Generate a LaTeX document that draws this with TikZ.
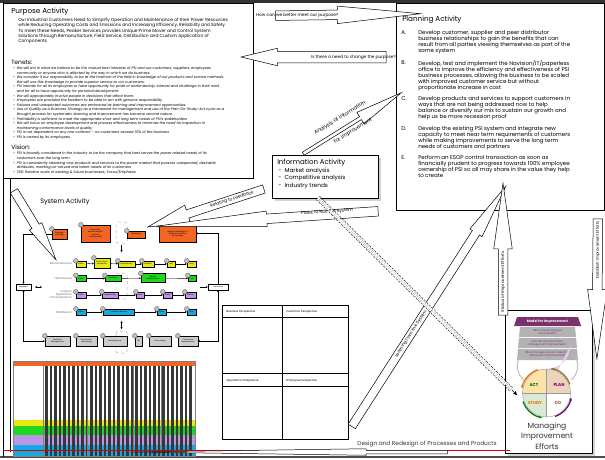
\documentclass[tikz,border=0pt]{standalone}
\usepackage{fontspec}
\setmainfont{Poppins}
\usetikzlibrary{arrows.meta, shapes.arrows, calc, shadows}

\definecolor{procorange}{RGB}{242,101,34}
\definecolor{procyellow}{RGB}{232,232,20}
\definecolor{procgreen}{RGB}{30,215,30}
\definecolor{procpurple}{RGB}{185,150,230}
\definecolor{proccyan}{RGB}{20,170,225}
\definecolor{mipurple}{RGB}{120,50,110}
\definecolor{actgreen}{RGB}{218,232,212}
\definecolor{planpurple}{RGB}{226,206,236}
\definecolor{studyyellow}{RGB}{253,226,170}
\definecolor{dotan}{RGB}{236,212,186}
\definecolor{scgreen}{RGB}{40,200,40}
\definecolor{scred}{RGB}{235,60,60}

\newcommand{\fs}[2]{\fontsize{#1}{#2}\selectfont}
% block arrow from tail (#3) to tip (#4)
\newcommand{\blockarrow}[4][]{%
  \path let \p1=($(#4)-(#3)$), \n1={veclen(\x1,\y1)}, \n2={atan2(\y1,\x1)} in
    node[flowarrow, minimum height=\n1, rotate=\n2, #1] (#2) at ($(#3)!0.5!(#4)$) {};}

\begin{document}
\begin{tikzpicture}[x=1pt, y=-1pt, line width=0.5pt,
  every node/.style={inner sep=0pt},
  flowarrow/.style={single arrow, draw, fill=white, inner sep=0pt, text depth=0pt,
    minimum width=0pt, line width=0.5pt},
  arrowlbl/.style={font=\fs{4.3}{5}},
  titletext/.style={font=\fs{7.2}{8}, anchor=west},
  bodytext/.style={anchor=north west, align=left},
  plantext/.style={anchor=north west, align=left, font=\fs{5.5}{6}},
  procbox/.style={draw, line width=0.35pt, font=\fs{1.9}{2.2}, align=center, inner sep=0.3pt},
  orangebox/.style={procbox, fill=procorange},
  yellowbox/.style={procbox, fill=procyellow, minimum height=6},
  greenbox/.style={procbox, fill=procgreen, minimum height=6},
  purplebox/.style={procbox, fill=procpurple, minimum height=6},
  cyanbox/.style={procbox, fill=proccyan, minimum height=6},
  graybox/.style={procbox, fill=black!20, minimum height=10},
  whitebox/.style={procbox, fill=white, minimum height=6},
  rowlbl/.style={font=\fs{2.8}{3.2}, text=black!60, anchor=east, align=right},
  flow/.style={-{Stealth[length=2pt, width=2pt]}, line width=0.35pt},
  badge/.style={fill=black!25, draw=black!70, line width=0.3pt},
  sctext/.style={anchor=north west, align=left, font=\fs{2.3}{3.6}},
  mitext/.style={font=\fs{2.7}{3}, text=mipurple, align=center}]
\useasboundingbox (0,0) rectangle (605,459);

% outer frame
\draw[line width=2.4pt, black!80] (0,1.5) -- (605,1.5);
\draw[line width=2.4pt, black!70] (0,457) -- (605,457);
\draw[line width=0.8pt] (3,2) -- (3,457);

% ---------------- Purpose Activity
\draw (3,3) rectangle (253,178);
\node[titletext] (purposeTitle) at (11,12) {Purpose Activity};
\node[bodytext, font=\fs{4.4}{5}] (purposeText) at (18,17.5)
  {Our Industrial Customers Need to Simplify Operation and Maintenance of their Power Resources\\
   while Reducing Operating Costs and Emissions and Increasing Efficiency, Reliability and Safety.\\[1.2pt]
   To meet these Needs, Peaker Services provides Unique Prime Mover and Control System\\
   Solutions through Remanufacture, Field Service, Distribution and Custom Application of\\
   Components};
\node[titletext, font=\fs{6}{7}] (tenetsTitle) at (11,62) {Tenets:};
\node[bodytext, font=\fs{3.55}{4.6}\itshape] (tenetsText) at (13,66.5)
  {\textbullet\ \ We will act in what we believe to be the mutual best interests of PSI and our customers, suppliers, employees,\\
   \phantom{\textbullet\ \ }community or anyone who is affected by the way in which we do business.\\
   \textbullet\ \ We consider it our responsibility to be at the forefront of the field in knowledge of our products and service methods.\\
   \phantom{\textbullet\ \ }We will use this knowledge to provide superior service to our customers.\\
   \textbullet\ \ PSI intends for all its employees to have opportunity for pride of workmanship, interest and challenge in their work\\
   \phantom{\textbullet\ \ }and for all to have opportunity for personal development.\\
   \textbullet\ \ We will appropriately involve people in decisions that affect them.\\
   \textbullet\ \ Employees are provided the freedom to be able to act with genuine responsibility.\\
   \textbullet\ \ Failures and unexpected outcomes are embraced as learning and improvement opportunities.\\
   \textbullet\ \ Use of Quality as a Business Strategy as a framework for management and use of the Plan-Do-Study-Act cycle as a\\
   \phantom{\textbullet\ \ }thought process for systematic learning and improvement has become second nature.\\
   \textbullet\ \ Profitability is sufficient to meet the appropriate short and long term needs of PSI's stakeholders\\
   \textbullet\ \ We will focus on employee development and process effectiveness to minimize the need for inspection in\\
   \phantom{\textbullet\ \ }maintaining conformance levels of quality\\
   \textbullet\ \ PSI is not dependent on any one contract -- no customers exceed 30\% of the business\\
   \textbullet\ \ PSI is owned by its employees.};
\node[titletext, font=\fs{6}{7}] (visionTitle) at (11,147) {Vision:};
\node[bodytext, font=\fs{3.55}{4.8}\itshape] (visionText) at (13,151.5)
  {\textbullet\ \ PSI is broadly considered in the industry to be the company that best serves the power related needs of its\\
   \phantom{\textbullet\ \ }customers over the long term\\
   \textbullet\ \ PSI is consistently releasing new products and services to the power market that possess unexpected, desirable\\
   \phantom{\textbullet\ \ }attributes, meeting un-served and latent needs of its customers\\
   \textbullet\ \ TBD: Relative scale of existing \& future businesses; Focus/Emphasis};

% ---------------- Planning Activity
\draw (396,3) rectangle (604,210);
\node[titletext, font=\fs{7.2}{8}] (planTitle) at (402,20) {Planning Activity};
\node[plantext] (planA) at (401,30) {A.};
\node[plantext] (planAText) at (418,30)
  {Develop customer, supplier and peer distributor\\ business relationships to gain the benefits that can\\
   result from all parties viewing themselves as part of the\\ same system};
\node[plantext] (planB) at (401,60) {B.};
\node[plantext] (planBText) at (418,60)
  {Develop, test and implement the Navision/IT/paperless\\ office to improve the efficiency and effectiveness of PSI\\
   business processes, allowing the business to be scaled\\ with improved customer service but without\\ proportionate increase in cost};
\node[plantext] (planC) at (401,96) {C.};
\node[plantext] (planCText) at (418,96)
  {Develop products and services to support customers in\\ ways that are not being addressed now to help\\
   balance or diversify our mix to sustain our growth and\\ help us be more recession proof};
\node[plantext] (planD) at (401,126) {D.};
\node[plantext] (planDText) at (418,126)
  {Develop the existing PSI system and integrate new\\ capacity to meet near term requirements of customers\\
   while making improvements to serve the long term\\ needs of customers and partners};
\node[plantext] (planE) at (401,155) {E.};
\node[plantext] (planEText) at (418,155)
  {Perform an ESOP control transaction as soon as\\ financially prudent to progress towards 100\% employee\\
   ownership of PSI so all may share in the value they help\\ to create};

% ---------------- System Activity
\draw (10,178) -- (10,452);
\node[titletext, font=\fs{6.5}{7}] (systemTitle) at (40,202) {System Activity};

\draw[dashed, black!35, rounded corners=2pt] (116,222) rectangle (127,243);
\draw[dashed, black!35, rounded corners=2pt] (116,273) rectangle (127,299);
\draw[dashed, black!35, rounded corners=2pt] (116,331) rectangle (127,353);

\node[orangebox, minimum width=15, minimum height=10] (sp) at (59.5,234) {Strategic\\Planning};
\node[orangebox, minimum width=29, minimum height=17] (pr) at (95.5,233.5) {Personnel,\\Relationships \&\\Capacity\\Development};
\node[orangebox, minimum width=18, minimum height=7] (mk) at (136,234.5) {Marketing};
\node[orangebox, minimum width=37, minimum height=17] (dr) at (177.5,233.5) {Design \& Redesign of\\Services, Solutions\\\& Processes};

\node[rowlbl] (remLbl) at (72,263) {Remanufacture};
\node[yellowbox, minimum width=10] (y1) at (81,264) {Sales};
\node[yellowbox, minimum width=16, minimum height=10] (y2) at (102,263) {Receiving \&\\Inspection};
\node[yellowbox, minimum width=17] (y3) at (126.5,264) {Disassembly};
\node[yellowbox, minimum width=12] (y4) at (148,264) {Rebuild};
\node[yellowbox, minimum width=8] (y5) at (171,264) {Test};
\node[yellowbox, minimum width=9] (y6) at (191.5,264) {Ship};

\node[rowlbl] (fsLbl) at (72,278) {Field Service};
\node[greenbox, minimum width=10] (g1) at (81,278.5) {Sales};
\node[greenbox, minimum width=16] (g2) at (113,278.5) {Dispatch};
\node[greenbox, minimum width=24, minimum height=9] (g3) at (153,278) {Repair/\\Replacement};
\node[greenbox, minimum width=8] (g4) at (192,278.5) {Bill};

\node[rowlbl] (caLbl) at (72,295) {Custom\\Application\\Of Components};
\node[purplebox, minimum width=10] (p1) at (81,295) {Sales};
\node[purplebox, minimum width=16] (p2) at (110,295) {Engineering};
\node[purplebox, minimum width=8] (p3) at (140,295) {Order};
\node[purplebox, minimum width=9] (p4) at (167.5,295) {Build};
\node[purplebox, minimum width=11] (p5) at (190.5,295) {Deliver};

\node[rowlbl] (diLbl) at (72,312) {Distribution};
\node[cyanbox, minimum width=10] (c1) at (81,312) {Sales};
\node[cyanbox, minimum width=31] (c2) at (118.5,312) {Customer Service};
\node[cyanbox, minimum width=9] (c3) at (161.5,312) {Order};
\node[cyanbox, minimum width=9] (c4) at (191.5,312) {Ship};

\node[whitebox, minimum width=15] (sup) at (23.5,287) {Suppliers};
\node[whitebox, minimum width=20] (cust) at (218,287) {Customers};

\node[graybox, minimum width=25] (b1) at (57.5,341) {Materials\\Management};
\node[graybox, minimum width=21] (b2) at (86.5,341) {Information\\Technology};
\node[graybox, minimum width=24] (b3) at (115,341) {Maintenance};
\node[graybox, minimum width=7] (b4) at (138.5,341) {HR};
\node[graybox, minimum width=22] (b5) at (160,341) {Accounting};
\node[graybox, minimum width=20] (b6) at (188,341) {Continuous\\Improvement};

\foreach \b in {sp,pr,mk,dr,y1,y2,y3,y4,y5,y6,g1,g2,g3,g4,p1,p2,p3,p4,p5,c1,c2,c3,c4,b1,b2,b3,b4,b5,b6}
  \draw[badge] (\b.north west) circle (2.4pt);

\foreach \a/\b in {y1/y2,y2/y3,y3/y4,y4/y5,y5/y6,g1/g2,g2/g3,g3/g4,p1/p2,p2/p3,p3/p4,p4/p5,c1/c2,c2/c3,c3/c4}
  \draw[flow] (\a) -- (\b);
\draw[flow] (sp.west) -| (sup.north);
\draw[flow] (cust.north) |- (dr.east);
\draw[flow, {Stealth[length=2pt, width=2pt]}-{Stealth[length=2pt, width=2pt]}] (sup.south) |- (b1.west);
\draw[flow, {Stealth[length=2pt, width=2pt]}-{Stealth[length=2pt, width=2pt]}] (cust.south) |- (b6.east);
\coordinate (mkDown) at (121.5,245); \coordinate (mkDownEnd) at (121.5,252);
\draw[flow] (mkDown) -- (mkDownEnd);
\coordinate (bUp) at (121.5,321); \coordinate (bUpEnd) at (121.5,329);
\draw[flow, {Stealth[length=2pt, width=2pt]}-{Stealth[length=2pt, width=2pt]}] (bUp) -- (bUpEnd);
\coordinate (supR) at (35,287); \coordinate (supRE) at (42,287);
\draw[flow, {Stealth[length=2pt, width=2pt]}-{Stealth[length=2pt, width=2pt]}] (supR) -- (supRE);
\coordinate (custL) at (200,287);
\draw[flow] (custL) -- (cust.west);

% measures table
\fill[procorange] (13,361) rectangle (195,365.5);
\fill[procyellow] (13,420) rectangle (195,426);
\fill[procgreen] (13,426) rectangle (195,435);
\fill[procpurple] (13,435) rectangle (195,445);
\fill[proccyan] (13,445) rectangle (195,456);
\foreach \x in {45,49.5,...,192}
  \fill[black!78] (\x,365.5) rectangle ++(2.8,90.5);
\draw[black!50, line width=0.3pt] (13,361) rectangle (195,456);
\foreach \x in {43,87,133,161}
  \draw[black!50, line width=0.3pt] (\x,361) -- (\x,456);

% balanced scorecard
\draw[line width=0.6pt] (222,305) rectangle (348,439);
\draw[line width=0.6pt] (282,305) -- (282,439);
\draw[line width=0.6pt] (222,373) -- (348,373);
\draw[line width=0.6pt] (222,317) -- (348,317);
\draw[line width=0.6pt] (222,386) -- (348,386);
\node[sctext, font=\fs{2.8}{3}] (bpTitle) at (226,310) {Business Perspective};
\node[sctext, font=\fs{2.8}{3}] (cpTitle) at (286,310) {Customer Perspective};
\node[sctext, font=\fs{2.8}{3}] (opTitle) at (226,379) {Operations Perspective};
\node[sctext, font=\fs{2.8}{3}] (epTitle) at (286,379) {Employee Perspective};

% ---------------- Information Activity
\node[draw, fill=white, drop shadow={opacity=0.35}, minimum width=106, minimum height=43, anchor=north west] (info) at (272,155) {};
\node[titletext, font=\fs{7}{8}] (infoTitle) at (277,163) {Information Activity};
\node[bodytext, font=\fs{5.8}{7.6}] (infoText) at (278,167.5) {-\ \ Market analysis\\ -\ \ Competitive analysis\\ -\ \ Industry trends};

% ---------------- Managing Improvement Efforts
\node[draw, fill=white, drop shadow={opacity=0.35}, minimum width=87, minimum height=143, anchor=north west] (mie) at (505,310) {};
\fill[mipurple] (517,317) -- (578,317) -- (581,326) -- (514,326) -- cycle;
\node[font=\fs{3.4}{4}\bfseries, text=white] (mieModel) at (547.5,321.5) {Model for Improvement};
\fill[black!30] (520,327) -- (575,327) -- (576,337) -- (519,337) -- cycle;
\fill[black!30] (519,338) -- (576,338) -- (577,348) -- (518,348) -- cycle;
\fill[black!30] (518,349) -- (577,349) -- (578,360) -- (517,360) -- cycle;
\node[mitext] (q1) at (547.5,332) {What are we trying to\\accomplish?};
\node[mitext] (q2) at (547.5,343) {How will we know that a\\change is an improvement?};
\node[mitext] (q3) at (547.5,354.5) {What changes can we make that\\will result in improvement?};
\coordinate (pdsa) at (546.5,393);
\draw[planpurple!70!black!60, line width=1pt, -{Stealth[length=3pt]}] (519,358) to[bend right=35] (524,380);
\draw[planpurple!70!black!60, line width=1pt, -{Stealth[length=3pt]}] (576,358) to[bend left=35] (571,380);
\fill[actgreen] (pdsa) -- ++(-24,0) arc[start angle=180, end angle=90, radius=24] -- cycle;
\fill[planpurple] (pdsa) -- ++(0,-24) arc[start angle=90, end angle=0, radius=24] -- cycle;
\fill[studyyellow] (pdsa) -- ++(-24,0) arc[start angle=180, end angle=270, radius=24] -- cycle;
\fill[dotan] (pdsa) -- ++(24,0) arc[start angle=0, end angle=-90, radius=24] -- cycle;
\draw[black!40, line width=0.4pt] (pdsa) circle (24pt);
\draw[black!40, line width=0.4pt] ($(pdsa)+(-24,0)$) -- ($(pdsa)+(24,0)$);
\draw[black!40, line width=0.4pt] ($(pdsa)+(0,-24)$) -- ($(pdsa)+(0,24)$);
\draw[green!45!black, line width=1.2pt, -{Stealth[length=3.5pt]}] ($(pdsa)+(160:25)$) arc[start angle=160, end angle=100, radius=25];
\draw[violet!80!black, line width=1.2pt, -{Stealth[length=3.5pt]}] ($(pdsa)+(70:25)$) arc[start angle=70, end angle=10, radius=25];
\draw[brown!80!black, line width=1.2pt, -{Stealth[length=3.5pt]}] ($(pdsa)+(-20:25)$) arc[start angle=-20, end angle=-80, radius=25];
\draw[orange!90!black, line width=1.2pt, -{Stealth[length=3.5pt]}] ($(pdsa)+(-110:25)$) arc[start angle=-110, end angle=-170, radius=25];
\node[font=\fs{4.2}{5}\bfseries, text=green!40!black] (act) at (534,385) {ACT};
\node[font=\fs{4.2}{5}\bfseries, text=violet] (plan) at (559,385) {PLAN};
\node[font=\fs{4.2}{5}\bfseries, text=orange!90!black] (study) at (535,403) {STUDY};
\node[font=\fs{4.2}{5}\bfseries, text=brown!80!black] (do) at (558,403) {DO};
\node[font=\fs{7.6}{10.5}, align=center, text=black!80] (mieText) at (547,436) {Managing\\Improvement\\Efforts};

% ---------------- connectors
\coordinate (howT) at (253,16);   \coordinate (howH) at (398,14);
\blockarrow[text height=9pt, single arrow head extend=4pt, single arrow tip angle=12]{howArrow}{howT}{howH}
\node[arrowlbl, anchor=west] (howLbl) at (256,15) {How can we better meet our purpose?};

\coordinate (needT) at (398,57);  \coordinate (needH) at (253,57);
\blockarrow[text height=11pt, single arrow head extend=3pt, single arrow tip angle=27, shape border rotate=180]{needArrow}{needH}{needT}
\node[arrowlbl, anchor=east] (needLbl) at (396,57) {Is there a need to change the purpose?};

\coordinate (anaT) at (298,157);  \coordinate (anaH) at (396,96);
\blockarrow[text height=3pt, single arrow head extend=5pt, single arrow tip angle=16]{anaArrow}{anaT}{anaH}
\node[arrowlbl, font=\fs{5.2}{6}, rotate=32] (anaLbl1) at (340,118) {Analysis of information};
\node[arrowlbl, font=\fs{5.2}{6}, rotate=32] (anaLbl2) at (353,131) {for improvement};

\coordinate (fbT) at (273,186);   \coordinate (fbH) at (157,224);
\blockarrow[text height=8pt, single arrow head extend=5pt, single arrow tip angle=25, shape border rotate=180]{fbArrow}{fbH}{fbT}
\node[arrowlbl, rotate=18] (fbLbl) at (232,199.5) {Relating to Feedback};

\coordinate (runT) at (412,209);  \coordinate (runH) at (190,224);
\blockarrow[text height=9pt, single arrow head extend=3pt, single arrow tip angle=8, shape border rotate=180]{runArrow}{runH}{runT}
\node[arrowlbl, rotate=4] (runLbl) at (327,212) {Plans to Run the System};

\coordinate (depT) at (8,181);    \coordinate (depH) at (50,250);
\blockarrow[text height=8pt, single arrow head extend=3pt, single arrow tip angle=21]{depArrow}{depT}{depH}

\coordinate (lrnT) at (343,440);  \coordinate (lrnH) at (497,200);
\blockarrow[text height=8pt, single arrow head extend=3pt, single arrow tip angle=15]{lrnArrow}{lrnT}{lrnH}
\node[arrowlbl, rotate=57.3] (lrnLbl) at (411,334) {Learning from the System};

\coordinate (imA) at (318,198);   \coordinate (imB) at (512,390);
\draw[dashed, double, double distance=4pt, line width=0.5pt, dash pattern=on 2pt off 1.5pt] (imA) -- (imB);
\coordinate (imTip) at (517,395);
\draw[-{Stealth[length=4pt, width=4pt]}, line width=0.6pt] (imB) -- (imTip);

\coordinate (stT) at (503,332);   \coordinate (stH) at (503,200);
\blockarrow[text height=9pt, single arrow head extend=4.5pt, single arrow tip angle=16]{stArrow}{stT}{stH}
\node[arrowlbl, font=\fs{4.1}{5}, rotate=90] (stLbl) at (503,282) {Status of Improvement Efforts};

\coordinate (esT) at (598,202);   \coordinate (esH) at (597,342);
\blockarrow[text height=9pt, single arrow head extend=5pt, single arrow tip angle=16, shape border rotate=180]{esArrow}{esH}{esT}
\node[arrowlbl, font=\fs{3.9}{5}, rotate=90] (esLbl) at (598,250) {Establish Improvement Efforts};

\draw[red!85!black, line width=0.8pt] (3,450) -- (510,450);
\coordinate (drT) at (510,452);   \coordinate (drH) at (196,452);
\blockarrow[text height=3pt, single arrow head extend=1.5pt, single arrow tip angle=1.6, shape border rotate=180]{drArrow}{drH}{drT}
\node[font=\fs{5.8}{7}, text=black!80] (drLbl) at (427,444) {Design and Redesign of Processes and Products};
\end{tikzpicture}
\end{document}
